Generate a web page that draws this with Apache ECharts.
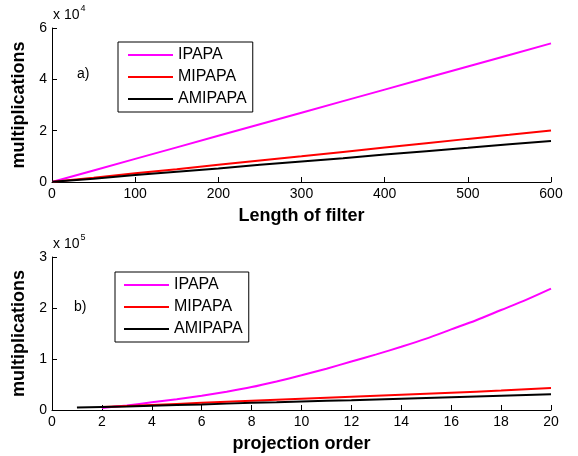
<!DOCTYPE html>
<html>
<head>
<meta charset="utf-8">
<script src="https://cdn.jsdelivr.net/npm/echarts@6/dist/echarts.min.js"></script>
<style>
	html, body { margin: 0; padding: 0; background: #fff; }
	#chart { width: 578px; height: 456px; }
</style>
</head>
<body>
<div id="chart"></div>
<script>
// a) multiplications vs length of filter (x 10^4)
var filterLengths = [1, 50, 100, 150, 200, 250, 300, 350, 400, 450, 500, 550, 600];
var ipapaA = [0.01, 0.45, 0.9, 1.35, 1.8, 2.25, 2.7, 3.15, 3.6, 4.05, 4.5, 4.95, 5.4];
var mipapaA = [0.01, 0.17, 0.34, 0.5, 0.67, 0.84, 1.0, 1.17, 1.34, 1.51, 1.68, 1.84, 2.01];
var amipapaA = [0.01, 0.13, 0.27, 0.4, 0.53, 0.67, 0.8, 0.93, 1.07, 1.2, 1.33, 1.47, 1.6];

// b) multiplications vs projection order (x 10^5)
var ordersB = [1, 2, 3, 4, 5, 6, 7, 8, 9, 10, 11, 12, 13, 14, 15, 16, 17, 18, 19, 20];
var ipapaB = [null, 0.04, 0.09, 0.15, 0.21, 0.28, 0.36, 0.45, 0.56, 0.68, 0.81, 0.95, 1.09, 1.24, 1.4, 1.58, 1.76, 1.96, 2.16, 2.38];
var mipapaB = [null, 0.06, 0.08, 0.1, 0.12, 0.14, 0.16, 0.18, 0.2, 0.22, 0.24, 0.26, 0.28, 0.3, 0.32, 0.34, 0.36, 0.38, 0.405, 0.43];
var amipapaB = [0.05, 0.06, 0.07, 0.085, 0.1, 0.11, 0.125, 0.14, 0.15, 0.165, 0.18, 0.19, 0.205, 0.22, 0.235, 0.25, 0.265, 0.28, 0.295, 0.31];

var names = ["IPAPA", "MIPAPA", "AMIPAPA"];
var colors = ["#ff00ff", "#ff0000", "#000000"];

function pairs(xs, ys) {
	var out = [];
	for (var i = 0; i < xs.length; i++) {
		if (ys[i] !== null) {
			out.push([xs[i], ys[i]]);
		}
	}
	return out;
}

var font = "Liberation Sans, Arial, sans-serif";

function xAxis(gridIndex, max, interval, name) {
	return {
		type: "value",
		gridIndex: gridIndex,
		min: 0,
		max: max,
		interval: interval,
		name: name,
		nameLocation: "middle",
		nameGap: 25,
		nameTextStyle: { fontFamily: font, fontSize: 18, fontWeight: "bold", color: "#000" },
		axisLine: { lineStyle: { color: "#000", width: 1 } },
		axisTick: { inside: true, length: 5, lineStyle: { color: "#000" } },
		axisLabel: { fontFamily: font, fontSize: 14, color: "#000", margin: 5 },
		splitLine: { show: false }
	};
}

function yAxis(gridIndex, max, interval) {
	return {
		type: "value",
		gridIndex: gridIndex,
		min: 0,
		max: max,
		interval: interval,
		name: "multiplications",
		nameLocation: "middle",
		nameGap: 23,
		nameRotate: 90,
		nameTextStyle: { fontFamily: font, fontSize: 18, fontWeight: "bold", color: "#000" },
		axisLine: { show: true, lineStyle: { color: "#000", width: 1 } },
		axisTick: { show: true, inside: true, length: 5, lineStyle: { color: "#000" } },
		axisLabel: { fontFamily: font, fontSize: 14, color: "#000", margin: 5 },
		splitLine: { show: false }
	};
}

function legend(left, top, padLeft) {
	return {
		data: names,
		orient: "vertical",
		left: left,
		top: top,
		icon: "rect",
		itemWidth: 45,
		itemHeight: 2,
		itemGap: 6,
		padding: [5, 6, 5, padLeft],
		borderColor: "#000",
		borderWidth: 1,
		backgroundColor: "#fff",
		selectedMode: false,
		textStyle: { fontFamily: font, fontSize: 16, lineHeight: 14, color: "#000", padding: [0, 0, 0, 0] }
	};
}

var series = [];
var dataA = [ipapaA, mipapaA, amipapaA];
var dataB = [ipapaB, mipapaB, amipapaB];
for (var i = 0; i < 3; i++) {
	series.push({
		name: names[i], type: "line", xAxisIndex: 0, yAxisIndex: 0,
		data: pairs(filterLengths, dataA[i]),
		symbol: "none", animation: false,
		lineStyle: { color: colors[i], width: 2 }, itemStyle: { color: colors[i] }
	});
	series.push({
		name: names[i], type: "line", xAxisIndex: 1, yAxisIndex: 1,
		data: pairs(ordersB, dataB[i]),
		symbol: "none", animation: false, smooth: i === 0 ? 0.3 : false,
		lineStyle: { color: colors[i], width: 2 }, itemStyle: { color: colors[i] }
	});
}

var sci = function (exp, top) {
	return { type: "text", left: 53, top: top, style: {
		text: "{a|x 10}{b|" + exp + "}", fill: "#000",
		rich: { a: { fontFamily: font, fontSize: 14, verticalAlign: "bottom" },
				b: { fontFamily: font, fontSize: 9, verticalAlign: "top", padding: [0, 0, 9, 1] } }
	} };
};

var chart = echarts.init(document.getElementById("chart"));
chart.setOption({
	backgroundColor: "#fff",
	animation: false,
	grid: [
		{ left: 52, top: 28, width: 499, height: 154 },
		{ left: 52, top: 257, width: 499, height: 153 }
	],
	xAxis: [
		xAxis(0, 600, 100, "Length of filter"),
		xAxis(1, 20, 2, "projection order")
	],
	yAxis: [
		yAxis(0, 6, 2),
		yAxis(1, 3, 1)
	],
	legend: [legend(118, 42, 10), legend(115, 272, 9)],
	graphic: [
		sci(4, 4),
		sci(5, 233),
		{ type: "text", left: 77, top: 67, style: { text: "a)", fontFamily: font, fontSize: 14, fill: "#000" } },
		{ type: "text", left: 74, top: 300, style: { text: "b)", fontFamily: font, fontSize: 14, fill: "#000" } }
	],
	series: series
});
</script>
</body>
</html>
